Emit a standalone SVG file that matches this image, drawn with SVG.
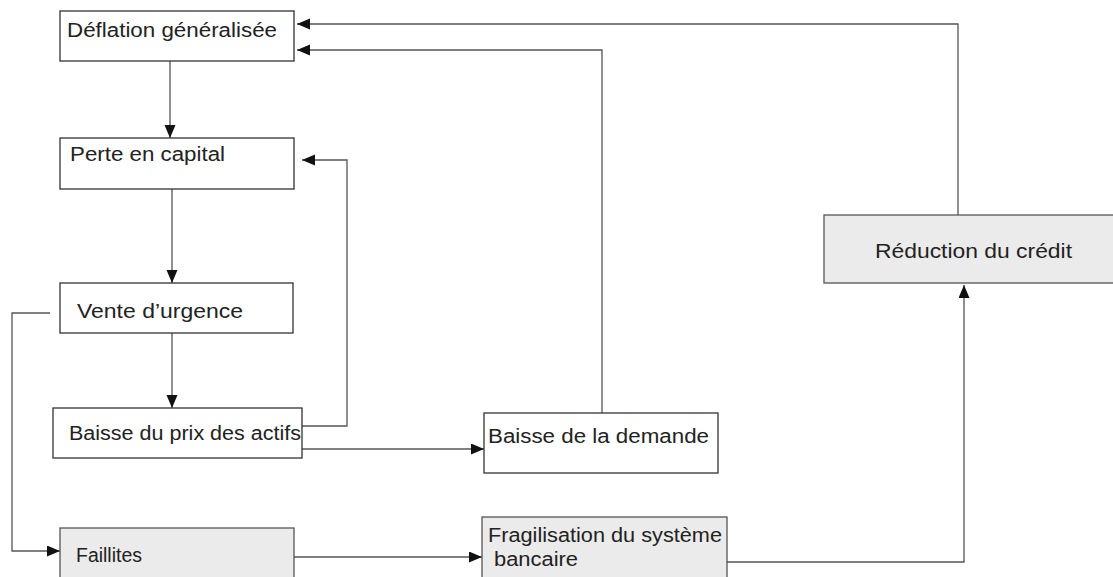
<svg xmlns="http://www.w3.org/2000/svg" width="1113" height="577" viewBox="0 0 1113 577">
<defs>
<marker id="ah" markerUnits="userSpaceOnUse" markerWidth="16" markerHeight="14" refX="13" refY="5.5" orient="auto">
<path d="M0,0 L13,5.5 L0,11 Z" fill="#111"/>
</marker>
<style>
.box{fill:#fff;stroke:#333;stroke-width:1.3}
.gbox{fill:#ebebeb;stroke:#555;stroke-width:1.3}
.lbl{font-family:"Liberation Sans",Arial,sans-serif;font-size:20px;fill:#222}
.c{fill:none;stroke:#555;stroke-width:1.3}
</style>
</defs>
<rect width="1113" height="577" fill="#fff"/>
<g id="connectors">
<path class="c" d="M170,61 V138" marker-end="url(#ah)"/>
<path class="c" d="M172,189 V283" marker-end="url(#ah)"/>
<path class="c" d="M172,333 V408" marker-end="url(#ah)"/>
<path class="c" d="M302,426 H347 V160 H302" marker-end="url(#ah)"/>
<path class="c" d="M302,449 H484" marker-end="url(#ah)"/>
<path class="c" d="M602,413 V50 H297" marker-end="url(#ah)"/>
<path class="c" d="M958,215 V24 H297" marker-end="url(#ah)"/>
<path class="c" d="M50,313 H12 V551 H60" marker-end="url(#ah)"/>
<path class="c" d="M294,557 H482" marker-end="url(#ah)"/>
<path class="c" d="M727,562 H964 V285" marker-end="url(#ah)"/>
</g>
<g id="deflation">
<rect class="box" x="60" y="11" width="234" height="50"/>
<text class="lbl" x="67" y="37" textLength="210" lengthAdjust="spacingAndGlyphs">Déflation généralisée</text>
</g>
<g id="perte">
<rect class="box" x="60" y="138" width="234" height="51"/>
<text class="lbl" x="70" y="161" textLength="155" lengthAdjust="spacingAndGlyphs">Perte en capital</text>
</g>
<g id="vente">
<rect class="box" x="60" y="283" width="233" height="50"/>
<text class="lbl" x="77" y="318" textLength="166" lengthAdjust="spacingAndGlyphs">Vente d’urgence</text>
</g>
<g id="baisse-prix">
<rect class="box" x="53" y="408" width="249" height="50"/>
<text class="lbl" x="69" y="440" textLength="232" lengthAdjust="spacingAndGlyphs">Baisse du prix des actifs</text>
</g>
<g id="baisse-demande">
<rect class="box" x="484" y="413" width="234" height="60"/>
<text class="lbl" x="488" y="443" textLength="221" lengthAdjust="spacingAndGlyphs">Baisse de la demande</text>
</g>
<g id="faillites">
<rect class="gbox" x="60" y="528" width="234" height="60"/>
<text class="lbl" x="76" y="562" textLength="66" lengthAdjust="spacingAndGlyphs">Faillites</text>
</g>
<g id="fragilisation">
<rect class="gbox" x="482" y="517" width="245" height="70"/>
<text class="lbl" x="488" y="542" textLength="234" lengthAdjust="spacingAndGlyphs">Fragilisation du système</text>
<text class="lbl" x="494" y="566" textLength="84" lengthAdjust="spacingAndGlyphs">bancaire</text>
</g>
<g id="reduction">
<rect class="gbox" x="824" y="215" width="300" height="68"/>
<text class="lbl" x="875" y="258" textLength="197" lengthAdjust="spacingAndGlyphs">Réduction du crédit</text>
</g>
</svg>
